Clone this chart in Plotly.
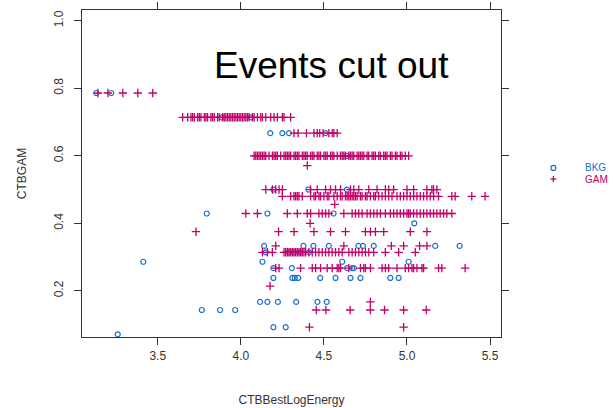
import plotly.graph_objects as go

# ---- data (x = CTBBestLogEnergy, y = CTBGAM) ----
bkg_rows = {
    0.786: [3.13, 3.22],
    0.714: [3.885, 4.06],
    0.667: [4.177, 4.25, 4.29, 4.51],
    0.600: [4.639],
    0.500: [4.196, 4.407, 4.639],
    0.429: [3.795, 4.16, 4.558],
    0.400: [5.044],
    0.333: [4.14, 4.377, 4.437, 4.53, 4.708, 4.735, 4.80, 5.17, 5.317],
    0.314: [4.15, 4.29, 4.32, 4.36, 4.41],
    0.286: [3.413, 4.13, 4.61, 5.01],
    0.267: [4.196, 4.307, 4.64, 4.67, 4.68],
    0.238: [4.196, 4.31, 4.325, 4.345, 4.478, 4.57, 4.66, 4.72, 4.90, 4.95],
    0.167: [4.116, 4.16, 4.223, 4.333, 4.461, 4.517],
    0.143: [3.765, 3.875, 3.966],
    0.092: [4.196, 4.27],
    0.071: [3.259],
}

gam_rows = {
    0.786: [3.14, 3.20, 3.29, 3.38, 3.47],
    0.714: [3.65, 3.68, 3.70, 3.71, 3.72, 3.74, 3.75, 3.76, 3.78, 3.79, 3.80, 3.82,
            3.83, 3.84, 3.86, 3.87, 3.89, 3.90, 3.91, 3.92, 3.93, 3.94, 3.95, 3.96,
            3.97, 3.98, 3.99, 4.00, 4.01, 4.02, 4.03, 4.04, 4.05, 4.07, 4.08, 4.10,
            4.12, 4.13, 4.15, 4.18, 4.20, 4.22, 4.25, 4.26, 4.30],
    0.667: [4.32, 4.345, 4.395, 4.44, 4.46, 4.475, 4.495, 4.53, 4.55, 4.56, 4.58],
    0.600: [4.08, 4.09, 4.10, 4.11, 4.12, 4.13, 4.14, 4.15, 4.17, 4.19, 4.20, 4.21,
            4.22, 4.24, 4.26, 4.27, 4.28, 4.29, 4.30, 4.32, 4.33, 4.34, 4.35, 4.37,
            4.38, 4.39, 4.40, 4.42, 4.43, 4.44, 4.46, 4.47, 4.48, 4.50, 4.51, 4.52,
            4.54, 4.55, 4.56, 4.58, 4.60, 4.61, 4.62, 4.63, 4.65, 4.66, 4.67, 4.68,
            4.70, 4.71, 4.72, 4.73, 4.74, 4.76, 4.77, 4.79, 4.80, 4.81, 4.83, 4.84,
            4.86, 4.87, 4.88, 4.90, 4.91, 4.93, 4.94, 4.96, 4.97, 4.99, 5.01],
    0.571: [4.40],
    0.500: [4.15, 4.19, 4.21, 4.23, 4.25, 4.42, 4.46, 4.51, 4.54, 4.57, 4.60, 4.66,
            4.68, 4.71, 4.77, 4.82, 4.87, 4.89, 4.92, 5.00, 5.04, 5.12, 5.15, 5.16,
            5.18],
    0.480: [4.25, 4.30, 4.32, 4.33, 4.34, 4.35, 4.37, 4.42, 4.44, 4.45, 4.47, 4.48,
            4.50, 4.52, 4.53, 4.56, 4.58, 4.60, 4.61, 4.63, 4.64, 4.65, 4.66, 4.67,
            4.68, 4.69, 4.70, 4.72, 4.73, 4.75, 4.76, 4.78, 4.80, 4.81, 4.83, 4.85,
            4.87, 4.89, 4.91, 4.94, 4.96, 4.98, 5.00, 5.02, 5.04, 5.06, 5.08, 5.10,
            5.12, 5.14, 5.16, 5.19, 5.27, 5.29, 5.39, 5.47],
    0.456: [4.565],
    0.429: [4.03, 4.10, 4.28, 4.34, 4.40, 4.42, 4.47, 4.49, 4.51, 4.53, 4.62, 4.67,
            4.69, 4.71, 4.73, 4.76, 4.78, 4.80, 4.82, 4.84, 4.87, 4.90, 4.92, 4.94,
            4.96, 4.98, 5.00, 5.01, 5.02, 5.04, 5.06, 5.08, 5.10, 5.12, 5.14, 5.16,
            5.18, 5.20, 5.22, 5.24, 5.27],
    0.400: [4.417],
    0.375: [3.73, 4.227, 4.32, 4.44, 4.54, 4.63, 4.75, 4.78, 4.81, 4.86, 5.02, 5.12],
    0.333: [4.21, 4.62, 4.906, 4.98, 5.076, 5.12],
    0.314: [4.13, 4.16, 4.19, 4.26, 4.27, 4.28, 4.29, 4.30, 4.31, 4.32, 4.33, 4.34,
            4.35, 4.36, 4.37, 4.38, 4.39, 4.41, 4.43, 4.45, 4.47, 4.49, 4.51, 4.53,
            4.55, 4.57, 4.59, 4.61, 4.65, 4.67, 4.69, 4.71, 4.73, 4.75, 4.77, 4.80,
            4.87, 4.95, 5.05],
    0.267: [4.21, 4.23, 4.36, 4.43, 4.45, 4.48, 4.52, 4.55, 4.58, 4.59, 4.60, 4.65,
            4.72, 4.74, 4.75, 4.78, 4.85, 4.87, 4.89, 4.94, 4.99, 5.01, 5.03, 5.04,
            5.06, 5.09, 5.10, 5.19, 5.21, 5.35],
    0.214: [4.176],
    0.167: [4.78],
    0.143: [4.454, 4.512, 4.658, 4.779, 4.865, 4.98, 5.116],
    0.092: [4.413, 4.98],
}

x_ticks = [3.5, 4.0, 4.5, 5.0, 5.5]
y_ticks = [0.2, 0.4, 0.6, 0.8, 1.0]
x_title = "CTBBestLogEnergy"
y_title = "CTBGAM"
annotation_text = "Events cut out"
legend_labels = ["BKG", "GAM"]
bkg_color = "#1a70d0"
gam_color = "#c4006a"
FONT = "Liberation Sans, Arial"


def flatten(rows):
    xs, ys = [], []
    for yv, xv in rows.items():
        for x in xv:
            xs.append(x)
            ys.append(yv)
    return xs, ys


bx, by = flatten(bkg_rows)
gx, gy = flatten(gam_rows)

fig = go.Figure()
fig.add_trace(go.Scatter(
    x=bx, y=by, mode="markers", name=legend_labels[0], showlegend=False,
    marker=dict(symbol="circle-open", size=5, color=bkg_color,
                line=dict(width=1.2, color=bkg_color)),
))
fig.add_trace(go.Scatter(
    x=gx, y=gy, mode="markers", name=legend_labels[1], showlegend=False,
    marker=dict(symbol="cross-thin-open", size=6, color=gam_color,
                line=dict(width=1.3, color=gam_color)),
))

fig.add_annotation(
    x=4.544, y=0.869, xref="x", yref="y", text=annotation_text,
    showarrow=False, font=dict(family=FONT, size=37, color="black"),
)

# ---- key (lattice-style) in the right margin ----
key_x = 1.125          # paper x of the symbol column
key_text_x = 1.196     # paper x where the labels start
key_y = [0.517, 0.483]  # paper y of the two rows
fig.add_shape(type="circle", xref="paper", yref="paper",
              xsizemode="pixel", ysizemode="pixel",
              xanchor=key_x, yanchor=key_y[0], x0=-2.5, x1=2.5, y0=-2.5, y1=2.5,
              line=dict(color=bkg_color, width=1.2))
fig.add_shape(type="line", xref="paper", yref="paper",
              xsizemode="pixel", ysizemode="pixel",
              xanchor=key_x, yanchor=key_y[1], x0=-3, x1=3, y0=0, y1=0,
              line=dict(color=gam_color, width=1.3))
fig.add_shape(type="line", xref="paper", yref="paper",
              xsizemode="pixel", ysizemode="pixel",
              xanchor=key_x, yanchor=key_y[1], x0=0, x1=0, y0=-3, y1=3,
              line=dict(color=gam_color, width=1.3))
for lab, yy, col in zip(legend_labels, key_y, [bkg_color, gam_color]):
    fig.add_annotation(x=key_text_x, y=yy, xref="paper", yref="paper",
                       text=lab, showarrow=False, xanchor="left", yanchor="middle",
                       font=dict(family=FONT, size=10, color=col))

axis_common = dict(
    showgrid=False, zeroline=False, showline=True, linecolor="#333333",
    linewidth=1.2, mirror="allticks", ticks="outside", ticklen=7,
    tickcolor="#333333", tickwidth=1.2, automargin=False,
    tickfont=dict(family=FONT, size=12, color="#333333"),
)

fig.update_xaxes(
    range=[3.044, 5.566], tickvals=x_ticks, ticktext=[f"{v:.1f}" for v in x_ticks],
    title=dict(text=x_title, standoff=34, font=dict(family=FONT, size=12, color="#333333")),
    ticklabelstandoff=0, **axis_common,
)
fig.update_yaxes(
    range=[0.063, 1.032], tickvals=y_ticks, ticktext=[f"{v:.1f}" for v in y_ticks],
    tickangle=-90,
    title=dict(text=y_title, standoff=22, font=dict(family=FONT, size=12, color="#333333")),
    ticklabelstandoff=6, **axis_common,
)

fig.update_layout(
    width=614, height=408,
    margin=dict(l=82, r=113, t=10, b=71, autoexpand=False),
    plot_bgcolor="white", paper_bgcolor="white",
    showlegend=False,
)

fig.write_html("out.html")
